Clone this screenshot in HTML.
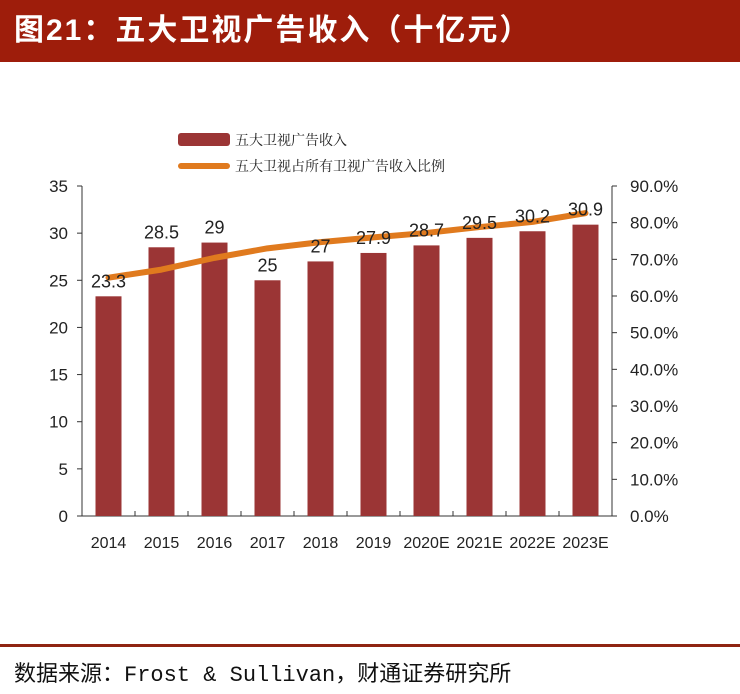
<!DOCTYPE html>
<html><head><meta charset="utf-8"><style>
body{margin:0;width:740px;height:694px;background:#fff;overflow:hidden;font-family:"Liberation Sans","Noto Sans CJK SC",sans-serif;}
#title{position:absolute;left:0;top:0;width:740px;height:62px;background:#9e1d0b;color:#fff;font:bold 30px "Liberation Sans","Noto Sans CJK SC",sans-serif;line-height:62px;padding-left:14px;box-sizing:border-box;letter-spacing:2px}
#rule{position:absolute;left:0;top:644px;width:740px;height:3px;background:#8f2412}
#source{position:absolute;left:14px;top:656px;font:22px "Liberation Mono","Noto Sans CJK SC",monospace;color:#111}
svg{position:absolute;left:0;top:0}
</style></head><body>
<div id="title">图21：五大卫视广告收入（十亿元）</div>
<svg id="chart" width="740" height="694"></svg>
<div id="rule"></div>
<div id="source">数据来源：Frost &amp; Sullivan，财通证券研究所</div>
<script>
const categories=["2014","2015","2016","2017","2018","2019","2020E","2021E","2022E","2023E"];
const revenue=[23.3,28.5,29,25,27,27.9,28.7,29.5,30.2,30.9];
const share=[65.0,67.2,70.4,73.0,74.7,76.0,77.2,78.8,80.2,82.6];
const leftTicks=[0,5,10,15,20,25,30,35];
const rightTicks=[0,10,20,30,40,50,60,70,80,90];
const NS="http://www.w3.org/2000/svg";
const svg=document.getElementById('chart');
const X0=82,X1=612,Y0=516,Y1=186;
const yL=v=>Y0-(v/35)*(Y0-Y1);
const yR=v=>Y0-(v/90)*(Y0-Y1);
const step=(X1-X0)/categories.length;
const xC=i=>X0+step*(i+0.5);
function mk(t,a){const e=document.createElementNS(NS,t);for(const k in a)e.setAttribute(k,a[k]);svg.appendChild(e);return e;}
// axes
let e=mk('line',{x1:X0,y1:Y1,x2:X0,y2:Y0,stroke:'#333','stroke-width':1});

e=mk('line',{x1:X1,y1:Y1,x2:X1,y2:Y0,stroke:'#333','stroke-width':1});

e=mk('line',{x1:X0,y1:Y0,x2:X1,y2:Y0,stroke:'#333','stroke-width':1});

leftTicks.forEach(v=>{
  mk('line',{x1:X0-5,y1:yL(v),x2:X0,y2:yL(v),stroke:'#333'});
  const t=mk('text',{x:68,y:yL(v)+6,'text-anchor':'end','font-size':17,fill:'#222'});t.textContent=v;
  
});
rightTicks.forEach(v=>{
  mk('line',{x1:X1,y1:yR(v),x2:X1+5,y2:yR(v),stroke:'#333'});
  const t=mk('text',{x:630,y:yR(v)+6,'font-size':17,fill:'#222'});t.textContent=v.toFixed(1)+'%';
  
});
for(let i=0;i<=categories.length;i++)mk('line',{x1:X0+step*i,y1:Y0,x2:X0+step*i,y2:Y0-5,stroke:'#333'});
categories.forEach((c,i)=>{
  const b=mk('rect',{x:xC(i)-13,y:yL(revenue[i]),width:26,height:Y0-yL(revenue[i]),fill:'#9b3535'});
  
  const t=mk('text',{x:xC(i),y:548,'text-anchor':'middle','font-size':16,fill:'#222'});t.textContent=c;
  
});
const pl=mk('polyline',{points:share.map((v,i)=>xC(i)+','+yR(v)).join(' '),fill:'none',stroke:'#e07a1e','stroke-width':6,'stroke-linejoin':'round','stroke-linecap':'round'});

categories.forEach((c,i)=>{
  const t=mk('text',{x:xC(i),y:yL(revenue[i])-9,'text-anchor':'middle','font-size':18,fill:'#222'});
  t.textContent=revenue[i];
  
});
// legend
e=mk('rect',{x:178,y:133,width:52,height:13,rx:3,fill:'#9b3535'});

e=mk('text',{x:235,y:145,'font-size':14,fill:'#222','font-family':'"Noto Serif CJK SC",serif'});e.textContent='五大卫视广告收入';

e=mk('line',{x1:181,y1:166,x2:227,y2:166,stroke:'#e07a1e','stroke-width':6,'stroke-linecap':'round'});

e=mk('text',{x:235,y:171,'font-size':14,fill:'#222','font-family':'"Noto Serif CJK SC",serif'});e.textContent='五大卫视占所有卫视广告收入比例';

</script>
</body></html>
